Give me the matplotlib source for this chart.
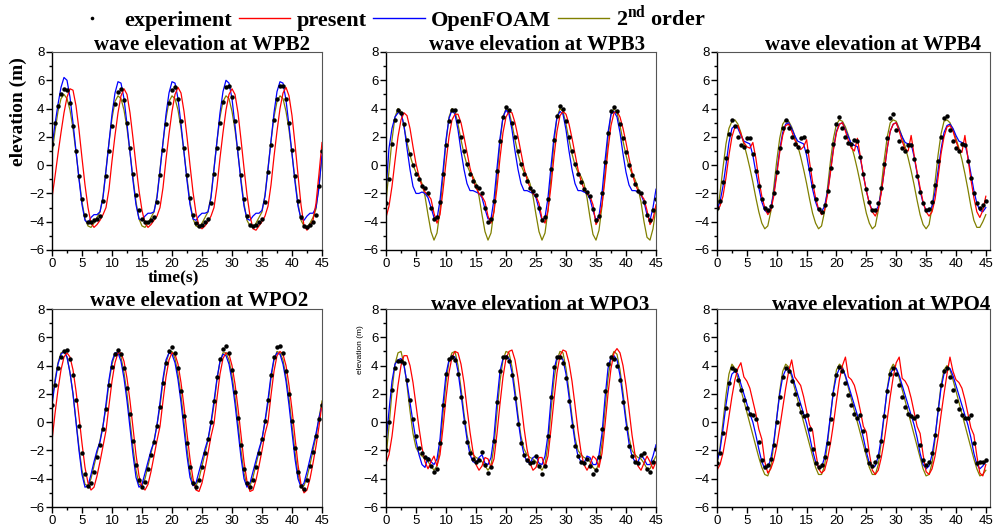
import numpy as np
import matplotlib
matplotlib.use('Agg')
import matplotlib.pyplot as plt
from matplotlib.lines import Line2D
from matplotlib.ticker import MultipleLocator

plt.rcParams['font.family'] = ['Liberation Sans', 'DejaVu Sans']
plt.rcParams['mathtext.fontset'] = 'custom'
plt.rcParams['mathtext.rm'] = 'Liberation Serif:bold'
plt.rcParams['mathtext.bf'] = 'Liberation Serif:bold'

# time samples (s), every 0.5 s
t = np.arange(0, 45.5, 0.5)

# ---- WPB2 ----
exp_wpb2 = [1.5, 3.0, 4.2, 5.0, 5.4, 5.3, 4.4, 2.8, 1.0, -0.8, -2.4, -3.5, -4.0, -4.0, -3.9, -3.8, -3.6, -2.5,
            -0.8, 1.0, 2.8, 4.3, 5.2, 5.4, 4.6, 3.0, 1.2, -0.6, -2.1, -3.2, -3.8, -4.0, -4.0, -3.9, -3.7, -2.6,
            -0.7, 1.1, 2.9, 4.4, 5.3, 5.5, 4.7, 3.1, 1.2, -0.7, -2.3, -3.5, -4.1, -4.3, -4.2, -4.0, -3.8, -2.7,
            -0.6, 1.2, 3.0, 4.5, 5.5, 5.6, 4.8, 3.1, 1.2, -0.7, -2.4, -3.6, -4.2, -4.3, -4.2, -4.0, -3.8, -2.6,
            -0.5, 1.4, 3.2, 4.7, 5.6, 5.6, 4.7, 3.0, 1.1, -0.8, -2.5, -3.7, -4.3, -4.4, -4.2, -4.0, -3.5, -1.5,
            1.0]
present_wpb2 = [-2.3, -0.8, 0.8, 2.3, 3.7, 4.8, 5.4, 5.3, 4.2, 2.5, 0.5, -1.4, -3.0, -4.1, -4.4, -4.2, -3.9, -3.5,
                -3.0, -1.7, 0.3, 2.1, 3.7, 4.9, 5.4, 5.0, 3.7, 1.9, 0.0, -1.8, -3.2, -4.1, -4.4, -4.2, -3.9, -3.6,
                -3.0, -1.6, 0.4, 2.2, 3.8, 5.0, 5.5, 5.1, 3.8, 2.0, 0.0, -1.9, -3.4, -4.3, -4.5, -4.3, -4.0, -3.6,
                -3.0, -1.5, 0.5, 2.3, 3.9, 5.0, 5.4, 5.0, 3.7, 1.8, -0.2, -2.1, -3.6, -4.5, -4.6, -4.3, -4.0, -3.6,
                -2.9, -1.4, 0.6, 2.4, 4.0, 5.1, 5.5, 4.9, 3.5, 1.5, -0.7, -2.8, -4.3, -4.6, -4.3, -3.9, -2.7, -0.6,
                1.6]
openfoam_wpb2 = [1.3, 2.9, 4.3, 5.5, 6.2, 6.0, 4.8, 3.0, 1.0, -1.0, -2.8, -3.9, -4.1, -3.7, -3.5, -3.5, -3.3, -2.3,
                 -0.4, 1.6, 3.6, 5.1, 5.9, 5.8, 4.7, 2.9, 0.9, -1.1, -2.8, -3.8, -3.9, -3.6, -3.4, -3.4, -3.3, -2.3,
                 -0.4, 1.6, 3.6, 5.1, 5.9, 5.8, 4.7, 2.9, 0.9, -1.1, -2.8, -3.8, -3.9, -3.6, -3.4, -3.4, -3.3, -2.3,
                 -0.3, 1.7, 3.7, 5.2, 6.0, 5.8, 4.7, 2.8, 0.8, -1.2, -2.9, -3.8, -3.9, -3.6, -3.4, -3.4, -3.2, -2.2,
                 -0.3, 1.7, 3.7, 5.2, 5.9, 5.8, 4.6, 2.8, 0.8, -1.2, -2.9, -3.8, -3.9, -3.6, -3.4, -3.4, -3.0, -1.6,
                 0.8]
second_wpb2 = [0.8, 2.4, 3.8, 4.7, 5.0, 4.7, 3.9, 2.6, 0.9, -0.9, -2.6, -3.8, -4.3, -4.4, -4.1, -3.7, -3.3, -2.2,
               -0.3, 1.6, 3.3, 4.5, 4.9, 4.7, 3.9, 2.6, 0.9, -0.9, -2.6, -3.8, -4.3, -4.4, -4.1, -3.7, -3.3, -2.2,
               -0.3, 1.6, 3.3, 4.5, 4.9, 4.7, 3.9, 2.6, 0.9, -0.9, -2.6, -3.8, -4.3, -4.4, -4.1, -3.7, -3.3, -2.2,
               -0.2, 1.7, 3.4, 4.5, 4.9, 4.7, 3.8, 2.5, 0.8, -1.0, -2.7, -3.9, -4.3, -4.4, -4.1, -3.7, -3.3, -2.1,
               -0.2, 1.7, 3.4, 4.5, 4.9, 4.7, 3.8, 2.5, 0.8, -1.0, -2.7, -3.9, -4.3, -4.4, -4.1, -3.7, -3.1, -1.4,
               0.6]

# ---- WPB3 ----
exp_wpb3 = [-2.7, -1.0, 1.5, 3.2, 3.9, 3.7, 2.9, 1.8, 0.8, 0.0, -0.6, -1.0, -1.5, -1.6, -2.0, -3.0, -3.8, -3.7,
            -2.6, -0.6, 1.4, 3.1, 3.9, 3.9, 3.1, 2.0, 1.0, 0.1, -0.6, -1.1, -1.5, -1.6, -2.0, -3.0, -4.0, -3.8,
            -2.5, -0.4, 1.7, 3.4, 4.1, 3.9, 3.0, 2.0, 1.0, 0.1, -0.6, -1.1, -1.6, -1.8, -2.1, -3.0, -3.9, -3.7,
            -2.4, -0.3, 1.8, 3.5, 4.2, 4.0, 3.1, 2.0, 1.0, 0.1, -0.6, -1.2, -1.7, -1.9, -2.2, -3.1, -3.9, -3.6,
            -2.0, 0.2, 2.3, 3.8, 4.1, 3.8, 2.9, 1.9, 0.9, 0.0, -0.7, -1.3, -1.8, -2.0, -2.6, -3.5, -3.9, -3.2,
            -2.4]
present_wpb3 = [-3.7, -2.9, -1.5, 0.3, 2.0, 3.2, 3.7, 3.5, 2.6, 1.3, 0.1, -0.8, -1.5, -1.9, -2.1, -2.4, -3.4, -4.1,
                -3.5, -1.8, 0.2, 2.0, 3.2, 3.6, 3.6, 3.0, 2.0, 0.9, -0.2, -1.0, -1.6, -2.0, -2.2, -2.6, -3.6, -4.1,
                -3.3, -1.6, 0.5, 2.3, 3.4, 3.8, 3.7, 3.0, 2.0, 0.9, -0.2, -1.0, -1.6, -2.0, -2.2, -2.7, -3.8, -4.1,
                -3.2, -1.5, 0.6, 2.4, 3.5, 3.8, 3.6, 2.9, 1.9, 0.8, -0.3, -1.1, -1.7, -2.0, -2.2, -2.8, -4.2, -3.8,
                -2.8, -1.0, 1.1, 2.8, 3.7, 3.8, 3.4, 2.6, 1.6, 0.5, -0.5, -1.3, -1.8, -2.1, -2.4, -3.2, -4.2, -3.8,
                -2.8]
openfoam_wpb3 = [-1.8, 1.2, 2.6, 3.4, 3.7, 3.7, 2.8, 1.2, -0.3, -1.5, -2.0, -2.0, -1.9, -2.0, -2.3, -3.0, -3.7, -3.8,
                 -2.5, -0.4, 1.8, 3.3, 3.9, 3.6, 2.5, 1.0, -0.3, -1.3, -1.8, -1.8, -1.9, -2.0, -2.3, -3.1, -3.8, -3.8,
                 -2.4, -0.2, 1.9, 3.4, 3.9, 3.6, 2.5, 1.0, -0.3, -1.3, -1.8, -1.8, -1.9, -2.0, -2.3, -3.1, -3.9, -3.7,
                 -2.3, -0.1, 2.0, 3.4, 3.8, 3.6, 2.5, 1.0, -0.3, -1.3, -1.8, -1.8, -1.9, -2.0, -2.4, -3.2, -3.9, -3.6,
                 -2.0, 0.3, 2.3, 3.6, 3.8, 3.4, 2.3, 0.8, -0.5, -1.4, -1.8, -1.8, -1.9, -2.1, -2.6, -3.5, -3.9, -3.0,
                 -1.7]
second_wpb3 = [-2.6, -0.4, 1.8, 3.4, 4.0, 3.8, 2.7, 1.6, 0.7, 0.0, -0.5, -0.8, -1.3, -2.2, -3.5, -4.7, -5.3, -4.8,
               -3.2, -0.8, 1.6, 3.4, 4.0, 3.8, 2.9, 1.8, 0.8, 0.0, -0.5, -0.8, -1.3, -2.2, -3.5, -4.7, -5.3, -4.8,
               -3.2, -0.8, 1.6, 3.4, 4.0, 3.8, 2.9, 1.8, 0.8, 0.0, -0.5, -0.8, -1.3, -2.2, -3.5, -4.7, -5.3, -4.8,
               -3.2, -0.8, 1.6, 3.4, 4.0, 3.8, 2.9, 1.8, 0.8, 0.0, -0.5, -0.8, -1.3, -2.3, -3.7, -4.9, -5.3, -4.6,
               -2.9, -0.5, 1.9, 3.6, 4.0, 3.7, 2.8, 1.7, 0.7, -0.1, -0.6, -1.0, -1.6, -2.6, -4.0, -5.1, -5.3, -4.5,
               -3.0]

# ---- WPB4 ----
exp_wpb4 = [-3.0, -2.5, -1.2, 0.5, 2.2, 3.2, 2.8, 2.0, 1.4, 1.3, 1.9, 1.9, 0.8, -0.4, -1.5, -2.4, -3.0, -3.2,
            -2.9, -2.0, -0.5, 1.2, 2.6, 3.2, 2.6, 2.0, 1.5, 1.3, 1.9, 2.0, 1.0, -0.3, -1.5, -2.4, -3.1, -3.3,
            -2.8, -1.8, -0.2, 1.5, 2.9, 3.4, 2.6, 2.0, 1.6, 1.5, 1.8, 1.7, 0.6, -0.6, -1.7, -2.6, -3.2, -3.2,
            -2.7, -1.6, 0.1, 1.9, 3.3, 3.6, 2.5, 1.7, 1.2, 1.0, 1.4, 1.4, 0.4, -0.8, -1.9, -2.7, -3.2, -3.1,
            -2.6, -1.4, 0.3, 2.0, 3.3, 3.5, 2.5, 1.7, 1.2, 1.0, 1.5, 1.4, 0.3, -0.9, -2.0, -2.7, -3.0, -2.8,
            -2.5]
present_wpb4 = [-3.2, -2.9, -2.2, -0.9, 0.7, 2.0, 2.7, 2.8, 2.2, 1.6, 1.3, 1.2, 1.6, 0.5, -1.0, -2.2, -3.0, -3.5,
                -3.2, -2.2, -0.7, 0.9, 2.1, 2.8, 2.9, 2.4, 1.8, 1.4, 1.1, 1.3, 1.8, 0.2, -1.2, -2.3, -3.1, -3.5,
                -3.2, -2.1, -0.5, 1.1, 2.3, 2.9, 3.0, 2.4, 1.7, 1.2, 1.0, 1.9, 0.6, -0.7, -1.8, -2.7, -3.3, -3.6,
                -3.1, -2.0, -0.4, 1.2, 2.4, 2.9, 3.0, 2.4, 1.7, 1.1, 1.0, 2.1, 0.7, -0.5, -1.6, -2.6, -3.3, -3.6,
                -3.3, -2.4, -0.9, 0.8, 2.0, 2.7, 2.8, 2.4, 1.7, 1.1, 0.9, 2.1, 0.5, -1.0, -2.3, -3.3, -3.7, -3.2,
                -2.2]
openfoam_wpb4 = [-3.1, -2.6, -1.5, 0.0, 1.6, 2.6, 2.8, 2.6, 2.1, 1.7, 1.6, 1.5, 0.7, -0.5, -1.6, -2.6, -3.2, -3.4,
                 -3.0, -2.0, -0.5, 1.1, 2.3, 2.9, 3.0, 2.6, 2.1, 1.7, 1.6, 1.5, 0.7, -0.5, -1.7, -2.6, -3.2, -3.3,
                 -2.9, -1.9, -0.4, 1.2, 2.4, 2.9, 3.0, 2.5, 2.0, 1.5, 1.4, 1.3, 0.5, -0.7, -1.8, -2.7, -3.2, -3.3,
                 -2.9, -1.9, -0.4, 1.2, 2.4, 2.9, 3.0, 2.5, 2.0, 1.6, 1.5, 1.5, 0.6, -0.6, -1.8, -2.7, -3.2, -3.3,
                 -2.9, -1.9, -0.4, 1.1, 2.3, 2.8, 2.9, 2.6, 2.1, 1.7, 1.6, 1.5, 0.6, -0.6, -1.8, -2.7, -3.2, -3.3,
                 -3.0]
second_wpb4 = [-3.5, -2.0, -0.2, 1.5, 2.6, 3.1, 3.2, 2.9, 2.3, 1.5, 0.7, -0.2, -1.2, -2.3, -3.3, -4.1, -4.5, -4.3,
               -3.3, -1.6, 0.3, 1.9, 2.9, 3.2, 3.1, 2.7, 2.1, 1.4, 0.6, -0.3, -1.3, -2.4, -3.4, -4.1, -4.5, -4.3,
               -3.3, -1.6, 0.3, 1.9, 2.9, 3.2, 3.1, 2.7, 2.1, 1.4, 0.6, -0.3, -1.3, -2.4, -3.4, -4.1, -4.5, -4.3,
               -3.2, -1.5, 0.4, 2.0, 3.0, 3.2, 3.1, 2.6, 2.0, 1.3, 0.5, -0.4, -1.4, -2.5, -3.5, -4.2, -4.5, -4.2,
               -3.0, -1.2, 0.7, 2.2, 3.1, 3.2, 3.0, 2.5, 1.9, 1.2, 0.4, -0.6, -1.7, -2.9, -3.9, -4.4, -4.4, -4.0,
               -3.5]

# ---- WPO2 ----
exp_wpo2 = [1.2, 2.6, 3.8, 4.6, 5.0, 5.1, 4.5, 3.3, 1.6, -0.3, -2.2, -3.7, -4.5, -4.3, -3.5, -2.5, -1.6, -0.5,
            0.9, 2.6, 3.9, 4.8, 5.1, 4.8, 3.8, 2.4, 0.6, -1.3, -3.0, -4.1, -4.6, -4.2, -3.3, -2.3, -1.4, -0.3,
            1.1, 2.8, 4.2, 5.0, 5.3, 4.9, 3.8, 2.2, 0.4, -1.5, -3.2, -4.3, -4.6, -4.1, -3.2, -2.2, -1.2, 0.0,
            1.5, 3.2, 4.5, 5.2, 5.4, 4.9, 3.7, 2.1, 0.3, -1.6, -3.3, -4.3, -4.6, -4.1, -3.2, -2.2, -1.2, 0.1,
            1.6, 3.3, 4.6, 5.3, 5.4, 4.9, 3.6, 2.0, 0.1, -1.8, -3.5, -4.5, -4.7, -4.1, -3.1, -2.1, -1.0, 0.2,
            1.2]
present_wpo2 = [-1.3, 0.6, 2.3, 3.7, 4.6, 4.9, 4.6, 3.7, 2.2, 0.4, -1.5, -3.2, -4.3, -4.8, -4.6, -3.8, -2.8, -1.7,
                -0.6, 1.2, 2.9, 4.2, 4.9, 4.9, 4.3, 3.1, 1.5, -0.4, -2.3, -3.8, -4.6, -4.8, -4.4, -3.5, -2.4, -1.3,
                -0.3, 1.5, 3.2, 4.4, 4.9, 4.8, 4.1, 2.8, 1.1, -0.8, -2.6, -4.0, -4.8, -4.9, -4.3, -3.3, -2.2, -1.0,
                -0.1, 1.7, 3.4, 4.5, 4.9, 4.8, 4.0, 2.7, 1.0, -0.9, -2.8, -4.2, -4.9, -4.8, -4.1, -3.1, -2.0, -0.8,
                0.0, 1.9, 3.6, 4.7, 5.0, 4.8, 4.0, 2.6, 0.9, -1.1, -3.0, -4.4, -5.0, -4.8, -4.0, -2.9, -1.7, -0.3,
                1.3]
openfoam_wpo2 = [1.2, 2.8, 4.1, 4.8, 5.0, 4.6, 3.5, 2.0, 0.0, -2.0, -3.7, -4.6, -4.5, -3.7, -2.8, -2.0, -1.4, -0.3,
                 1.3, 3.0, 4.3, 4.9, 4.9, 4.3, 3.1, 1.5, -0.4, -2.3, -3.9, -4.6, -4.4, -3.6, -2.8, -2.0, -1.4, -0.2,
                 1.4, 3.1, 4.4, 4.9, 4.8, 4.2, 3.0, 1.4, -0.5, -2.4, -3.9, -4.5, -4.3, -3.5, -2.7, -1.9, -1.2, 0.0,
                 1.5, 3.1, 4.3, 4.8, 4.7, 4.1, 2.9, 1.3, -0.6, -2.5, -4.0, -4.6, -4.3, -3.5, -2.7, -1.9, -1.2, 0.1,
                 1.6, 3.3, 4.5, 4.9, 4.8, 4.1, 2.9, 1.2, -0.7, -2.6, -4.0, -4.6, -4.3, -3.5, -2.6, -1.7, -0.8, 0.3,
                 1.2]
second_wpo2 = [1.5, 3.0, 4.2, 4.9, 5.0, 4.6, 3.5, 2.0, 0.1, -1.8, -3.4, -4.4, -4.5, -4.0, -3.1, -2.2, -1.3, -0.2,
               1.0, 2.8, 4.1, 4.8, 5.0, 4.6, 3.5, 2.0, 0.1, -1.8, -3.4, -4.4, -4.5, -4.0, -3.1, -2.2, -1.3, -0.2,
               1.1, 2.9, 4.2, 4.9, 5.0, 4.5, 3.4, 1.9, 0.0, -1.9, -3.5, -4.4, -4.5, -4.0, -3.1, -2.2, -1.3, -0.1,
               1.2, 3.0, 4.3, 4.9, 4.9, 4.4, 3.3, 1.8, -0.1, -2.0, -3.6, -4.5, -4.5, -3.9, -3.0, -2.1, -1.2, 0.0,
               1.3, 3.1, 4.4, 5.0, 4.9, 4.4, 3.2, 1.7, -0.2, -2.1, -3.7, -4.5, -4.5, -3.9, -3.0, -2.0, -1.0, 0.3,
               1.5]

# ---- WPO3 ----
exp_wpo3 = [-2.0, 0.0, 2.3, 3.8, 4.3, 4.3, 4.2, 3.0, 1.6, 0.2, -1.0, -1.8, -2.2, -2.5, -2.6, -3.1, -3.5, -3.3,
            -1.5, 1.2, 3.4, 4.5, 4.6, 4.4, 3.4, 1.8, 0.0, -1.4, -2.2, -2.6, -2.8, -2.7, -2.1, -3.0, -3.6, -3.2,
            -1.3, 1.4, 3.6, 4.6, 4.6, 4.3, 3.3, 1.7, -0.1, -1.5, -2.3, -2.7, -2.9, -2.8, -2.4, -3.1, -3.7, -3.1,
            -1.0, 1.8, 3.9, 4.6, 4.6, 4.2, 3.1, 1.5, -0.3, -1.7, -2.4, -2.8, -2.9, -2.6, -3.1, -3.7, -3.4, -2.5,
            -0.5, 2.2, 4.1, 4.6, 4.5, 4.0, 3.0, 1.4, -0.4, -1.7, -2.4, -2.8, -2.9, -2.3, -2.2, -3.3, -3.5, -2.8,
            -1.9]
present_wpo3 = [-2.9, -2.3, -1.0, 0.8, 2.6, 4.0, 4.7, 4.7, 4.0, 2.8, 1.2, -0.4, -1.8, -2.8, -3.3, -2.8, -2.4, -3.1,
                -2.3, -0.4, 1.7, 3.5, 4.6, 5.0, 4.9, 4.1, 2.8, 1.0, -0.7, -2.1, -3.0, -3.4, -3.1, -2.5, -2.6, -3.2,
                -2.6, -0.8, 1.3, 3.2, 4.5, 5.0, 5.1, 4.4, 3.1, 1.4, -0.4, -1.9, -2.9, -3.4, -3.2, -2.5, -2.5, -3.2,
                -2.4, -0.5, 1.6, 3.5, 4.7, 5.1, 5.0, 4.2, 2.9, 1.2, -0.6, -2.1, -3.0, -3.4, -3.0, -2.4, -2.6, -3.2,
                -2.2, -0.2, 2.0, 3.8, 4.9, 5.2, 4.9, 4.0, 2.6, 0.9, -0.9, -2.3, -3.1, -3.4, -2.9, -2.4, -2.8, -3.3,
                -2.8]
openfoam_wpo3 = [-1.5, 0.8, 2.9, 4.1, 4.4, 4.5, 4.0, 2.8, 1.4, 0.0, -1.3, -2.3, -3.0, -3.2, -2.5, -2.8, -3.0, -2.6,
                 -1.2, 1.3, 3.4, 4.4, 4.7, 4.6, 3.6, 2.0, 0.3, -1.2, -2.3, -2.8, -2.9, -2.5, -2.3, -2.9, -3.0, -2.5,
                 -1.0, 1.5, 3.6, 4.5, 4.7, 4.5, 3.5, 1.9, 0.2, -1.3, -2.3, -2.8, -2.9, -2.5, -2.4, -2.9, -3.0, -2.4,
                 -0.9, 1.6, 3.7, 4.6, 4.7, 4.4, 3.4, 1.8, 0.1, -1.4, -2.4, -2.8, -2.9, -2.4, -2.5, -3.0, -3.0, -2.3,
                 -0.8, 1.7, 3.8, 4.6, 4.7, 4.4, 3.3, 1.7, 0.0, -1.5, -2.4, -2.8, -2.8, -2.3, -2.6, -3.0, -3.0, -2.4,
                 -1.6]
second_wpo3 = [-2.5, -0.3, 2.2, 4.1, 4.9, 5.0, 4.1, 2.6, 0.8, -0.8, -1.8, -2.2, -2.4, -2.6, -2.8, -3.1, -3.4, -3.1,
               -1.8, 0.6, 2.8, 4.3, 4.9, 5.0, 4.0, 2.4, 0.6, -0.9, -1.9, -2.3, -2.5, -2.6, -2.8, -3.1, -3.4, -3.1,
               -1.7, 0.7, 2.9, 4.4, 5.0, 4.9, 3.9, 2.3, 0.5, -1.0, -1.9, -2.3, -2.5, -2.6, -2.8, -3.1, -3.4, -3.0,
               -1.6, 0.8, 3.0, 4.4, 5.0, 4.9, 3.8, 2.2, 0.4, -1.1, -2.0, -2.3, -2.5, -2.6, -2.8, -3.2, -3.4, -2.9,
               -1.5, 0.9, 3.1, 4.5, 5.0, 4.8, 3.7, 2.1, 0.3, -1.1, -2.0, -2.3, -2.5, -2.6, -2.9, -3.3, -3.3, -2.8,
               -2.4]

# ---- WPO4 ----
exp_wpo4 = [-2.9, -2.2, -0.8, 1.0, 2.8, 3.8, 3.7, 3.0, 2.3, 1.6, 1.0, 0.6, 0.5, 0.2, -1.4, -2.7, -3.2, -3.0,
            -2.6, -1.6, 0.0, 1.8, 3.2, 3.8, 3.6, 2.9, 2.0, 1.3, 0.7, 0.4, 0.5, -0.5, -1.9, -2.9, -3.2, -3.0,
            -2.5, -1.5, 0.2, 2.0, 3.3, 3.9, 3.6, 2.8, 1.9, 1.2, 0.6, 0.3, 0.5, -0.6, -2.0, -2.9, -3.1, -2.8,
            -2.4, -1.3, 0.4, 2.2, 3.4, 3.8, 3.4, 2.6, 1.8, 1.1, 0.6, 0.4, 0.3, 0.4, -1.6, -2.7, -3.0, -2.8,
            -2.2, -0.9, 0.9, 2.6, 3.6, 3.8, 3.2, 2.3, 1.5, 0.9, 0.5, 0.3, 0.3, 0.5, -1.5, -2.9, -2.8, -2.8,
            -2.7]
present_wpo4 = [-3.4, -3.0, -2.2, -1.0, 0.4, 1.8, 3.0, 3.8, 4.2, 3.2, 2.9, 2.4, 1.5, 0.6, -0.5, -1.2, -2.8, -3.6,
                -3.3, -2.7, -1.7, -0.4, 1.0, 2.4, 3.6, 4.4, 3.2, 2.9, 2.6, 1.8, 0.8, -0.2, -0.6, -2.1, -3.3, -3.6,
                -3.4, -2.6, -1.5, -0.1, 1.5, 3.0, 4.0, 4.6, 3.2, 3.0, 2.6, 1.8, 0.8, -0.3, -0.7, -2.2, -3.4, -3.7,
                -3.4, -2.5, -1.3, 0.2, 1.8, 3.2, 4.2, 4.6, 3.1, 2.9, 2.5, 1.7, 0.7, -0.3, -0.8, -2.3, -3.5, -3.7,
                -3.3, -2.4, -1.1, 0.5, 2.0, 3.4, 4.6, 3.6, 3.0, 2.8, 2.4, 1.6, 0.6, -0.4, -0.9, -2.4, -3.6, -3.8,
                -3.0]
openfoam_wpo4 = [-2.8, -2.0, -0.5, 1.2, 2.6, 3.4, 3.6, 3.4, 2.7, 2.0, 1.3, 0.6, 0.0, -0.9, -1.9, -2.8, -3.3, -3.2,
                 -2.6, -1.4, 0.3, 2.0, 3.2, 3.7, 3.8, 3.4, 2.7, 2.0, 1.3, 0.6, -0.1, -1.0, -2.0, -2.8, -3.2, -3.2,
                 -2.5, -1.2, 0.5, 2.2, 3.3, 3.8, 3.8, 3.3, 2.6, 1.9, 1.2, 0.5, -0.2, -1.1, -2.1, -2.9, -3.2, -3.1,
                 -2.4, -1.1, 0.6, 2.3, 3.4, 3.8, 3.8, 3.3, 2.6, 1.9, 1.2, 0.5, -0.2, -1.1, -2.2, -3.0, -3.3, -3.1,
                 -2.3, -1.0, 0.7, 2.4, 3.4, 3.8, 3.8, 3.3, 2.6, 1.9, 1.2, 0.5, -0.2, -1.1, -2.2, -3.0, -3.3, -3.1,
                 -2.8]
second_wpo4 = [-3.0, -1.8, 0.0, 1.9, 3.4, 4.1, 3.8, 3.1, 2.3, 1.5, 0.7, -0.1, -0.9, -1.7, -2.5, -3.2, -3.7, -3.8,
               -3.2, -1.6, 0.3, 2.2, 3.6, 4.1, 3.9, 3.2, 2.4, 1.6, 0.8, 0.0, -0.8, -1.6, -2.4, -3.2, -3.7, -3.7,
               -3.1, -1.5, 0.4, 2.3, 3.7, 4.1, 3.9, 3.2, 2.4, 1.6, 0.8, 0.0, -0.8, -1.6, -2.4, -3.2, -3.7, -3.7,
               -3.0, -1.4, 0.5, 2.4, 3.7, 4.1, 3.8, 3.1, 2.3, 1.5, 0.7, -0.1, -0.9, -1.7, -2.5, -3.3, -3.8, -3.7,
               -2.9, -1.2, 0.8, 2.6, 3.7, 4.0, 3.7, 3.0, 2.2, 1.4, 0.6, -0.2, -1.0, -1.8, -2.6, -3.3, -3.8, -3.7,
               -3.4]

titles = ['wave elevation at WPB2', 'wave elevation at WPB3', 'wave elevation at WPB4',
          'wave elevation at WPO2', 'wave elevation at WPO3', 'wave elevation at WPO4']
panels = [
    (exp_wpb2, present_wpb2, openfoam_wpb2, second_wpb2),
    (exp_wpb3, present_wpb3, openfoam_wpb3, second_wpb3),
    (exp_wpb4, present_wpb4, openfoam_wpb4, second_wpb4),
    (exp_wpo2, present_wpo2, openfoam_wpo2, second_wpo2),
    (exp_wpo3, present_wpo3, openfoam_wpo3, second_wpo3),
    (exp_wpo4, present_wpo4, openfoam_wpo4, second_wpo4),
]

W, H = 999, 531
fig = plt.figure(figsize=(W / 100, H / 100), dpi=100)

# axes boxes in pixels: left, right, top, bottom
boxes = [(52, 322, 52, 250), (386, 656, 52, 250), (717, 990, 52, 250),
         (52, 322, 309, 507), (386, 656, 309, 507), (717, 990, 309, 507)]
xmax = [45, 45, 45.7, 45, 45, 45.7]
title_x = [0.955, 0.96, 0.967, 0.948, 0.974, 1.0]
title_dy = [0.010, 0.010, 0.010, 0.013, -0.006, -0.006]

red = '#ff0000'
blue = '#0000ff'
olive = '#808000'
serif = 'Liberation Serif'

for i, (exp, pres, ofo, sec) in enumerate(panels):
    l, r, tp, b = boxes[i]
    ax = fig.add_axes([l / W, 1 - b / H, (r - l) / W, (b - tp) / H])
    ax.plot(t, sec, color=olive, lw=0.9)
    ax.plot(t, ofo, color=blue, lw=0.9)
    ax.plot(t, pres, color=red, lw=0.9)
    ax.plot(t, exp, 'o', color='black', ms=3.2, mew=0)
    ax.set_xlim(0, xmax[i])
    ax.set_ylim(-6, 8)
    ax.xaxis.set_major_locator(MultipleLocator(5))
    ax.xaxis.set_minor_locator(MultipleLocator(2.5))
    ax.yaxis.set_major_locator(MultipleLocator(2))
    ax.yaxis.set_minor_locator(MultipleLocator(1))
    ax.tick_params(which='major', direction='out', length=4, width=1, labelsize=9.5, pad=1.5)
    ax.tick_params(which='minor', direction='out', length=2, width=1)
    for s in ['top', 'right']:
        ax.spines[s].set_color('#555555')
        ax.spines[s].set_linewidth(0.8)
    for s in ['left', 'bottom']:
        ax.spines[s].set_linewidth(1.0)
    ax.text(title_x[i], 1.0 + title_dy[i], titles[i], transform=ax.transAxes,
            ha='right', va='baseline', fontsize=15, fontweight='bold', family=serif,
            zorder=5)

# axis labels
fig.text(18 / W, 1 - 112 / H, 'elevation (m)', rotation=90, ha='center', va='center',
         fontsize=14, fontweight='bold', family=serif)
fig.text(173 / W, 1 - 277 / H, 'time(s)', ha='center', va='center',
         fontsize=12.5, fontweight='bold', family=serif)
fig.text(360 / W, 1 - 350 / H, 'elevation (m)', rotation=90, ha='center', va='center',
         fontsize=6)

# legend across the top
handles = [Line2D([], [], color='black', marker='o', ms=2.6, mew=0, ls='none'),
           Line2D([], [], color=red, lw=1),
           Line2D([], [], color=blue, lw=1),
           Line2D([], [], color=olive, lw=1)]
labels = ['experiment', 'present', 'OpenFOAM', '2$^{\\mathbf{nd}}$ order']
fig.legend(handles, labels, loc='center', bbox_to_anchor=(386 / W, 1 - 18 / H), ncol=4,
           frameon=False, prop={'family': serif, 'weight': 'bold', 'size': 16},
           handlelength=2.3, handletextpad=0.3, columnspacing=0.3, borderaxespad=0,
           borderpad=0)

fig.savefig('out.png', dpi=100)
